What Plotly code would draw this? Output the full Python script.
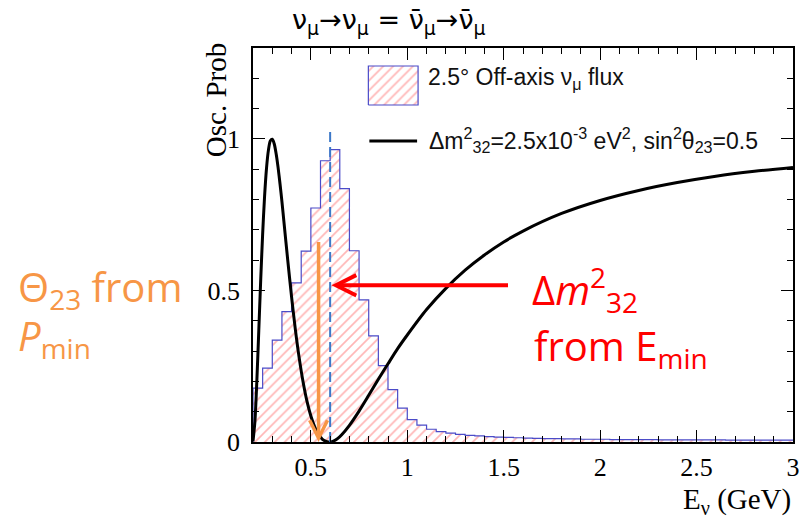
import plotly.graph_objects as go

# ---------------- data ----------------
flux_bin_lo = [0.20, 0.25, 0.30, 0.35, 0.40, 0.45, 0.50, 0.55, 0.60, 0.65,
               0.70, 0.75, 0.80, 0.85, 0.90, 0.95, 1.00, 1.05, 1.10, 1.15,
               1.20, 1.25, 1.30, 1.35, 1.40, 1.45, 1.50, 1.55, 1.60, 1.65,
               1.70, 1.75, 1.80, 1.85, 1.90, 1.95, 2.00, 2.05, 2.10, 2.15,
               2.20, 2.25, 2.30, 2.35, 2.40, 2.45, 2.50, 2.55, 2.60, 2.65,
               2.70, 2.75, 2.80, 2.85, 2.90, 2.95]
flux_bin_hi_last = 3.0
flux_values = [0.178, 0.244, 0.336, 0.430, 0.525, 0.630, 0.772, 0.928, 0.965, 0.836,
               0.631, 0.469, 0.350, 0.252, 0.173, 0.112, 0.074, 0.056, 0.042, 0.034,
               0.029, 0.025, 0.022, 0.020, 0.018, 0.016, 0.015, 0.014, 0.013, 0.012,
               0.011, 0.011, 0.010, 0.010, 0.009, 0.009, 0.009, 0.008, 0.008, 0.008,
               0.008, 0.008, 0.007, 0.007, 0.007, 0.007, 0.007, 0.007, 0.007, 0.006,
               0.006, 0.006, 0.006, 0.006, 0.006, 0.006]

osc_E = [0.20, 0.21, 0.22, 0.23, 0.24, 0.25, 0.26, 0.27, 0.28, 0.29,
         0.30, 0.31, 0.32, 0.33, 0.34, 0.35, 0.36, 0.38, 0.40, 0.42,
         0.44, 0.46, 0.48, 0.50, 0.52, 0.54, 0.56, 0.58, 0.60, 0.62,
         0.64, 0.66, 0.70, 0.75, 0.80, 0.85, 0.90, 0.95, 1.00, 1.10,
         1.20, 1.30, 1.40, 1.50, 1.60, 1.80, 2.00, 2.20, 2.40, 2.60,
         2.80, 3.00]
osc_P = [0.002, 0.069, 0.203, 0.368, 0.535, 0.686, 0.810, 0.903, 0.963, 0.994,
         0.999, 0.984, 0.951, 0.906, 0.852, 0.793, 0.729, 0.601, 0.479, 0.369,
         0.275, 0.197, 0.134, 0.086, 0.050, 0.025, 0.009, 0.002, 0.000, 0.004,
         0.012, 0.024, 0.055, 0.102, 0.154, 0.207, 0.258, 0.308, 0.353, 0.437,
         0.507, 0.567, 0.617, 0.660, 0.696, 0.754, 0.797, 0.830, 0.856, 0.877,
         0.893, 0.906]

E_min_line_x = [0.6, 0.6]
E_min_line_y = [0.0, 1.03]

theta_arrow = dict(x=0.54, y_tip=0.0, y_tail=0.665)
dm_arrow = dict(y=0.517, x_tip=0.607, x_tail=1.53)

x_range = [0.2, 3.0]
y_range = [0.0, 1.3]

title_text = "ν<sub>μ</sub>→ν<sub>μ</sub> = ν̄<sub>μ</sub>→ν̄<sub>μ</sub>"
legend_flux = "2.5° Off-axis ν<sub>μ</sub> flux"
legend_osc = "Δm<sup>2</sup><sub>32</sub>=2.5x10<sup>-3</sup> eV<sup>2</sup>, sin<sup>2</sup>θ<sub>23</sub>=0.5"
y_title = "Osc. Prob"
x_title = "E<sub>ν</sub> (GeV)"

# ---------------- layout geometry ----------------
W, H = 812, 518
ML, MR, MT, MB = 253, 16, 48, 76
PW, PH = W - ML - MR, H - MT - MB


def PX(px):
    return (px - ML) / PW


def PY(py):
    return (H - MB - py) / PH


SERIF = "Liberation Serif, Times New Roman, serif"
SANS = "Liberation Sans, Arial, sans-serif"
TITLEF = "DejaVu Sans, Liberation Sans, sans-serif"
SLIDE = "Open Sans, Noto Sans, sans-serif"
BLUE_OUT = "#4b4bc8"
HATCH = dict(shape="/", fgcolor="#ff6e6e", bgcolor="white", size=7, solidity=0.24)
ORANGE = "#f79646"
RED = "#ff0000"

fig = go.Figure()

# histogram (step outline + hatched fill)
hx = [flux_bin_lo[0]] + flux_bin_lo + [flux_bin_hi_last]
hy = [0.0] + flux_values + [flux_values[-1]]
fig.add_trace(go.Scatter(x=hx, y=hy, mode="lines", line=dict(shape="hv", color=BLUE_OUT, width=1.2),
                         fill="tozeroy", fillcolor="white", fillpattern=HATCH, showlegend=False,
                         hoverinfo="skip"))

# oscillation probability curve
fig.add_trace(go.Scatter(x=osc_E, y=osc_P, mode="lines",
                         line=dict(color="black", width=3, shape="spline", smoothing=0.8),
                         showlegend=False, hoverinfo="skip"))

# dashed line at E_min
fig.add_trace(go.Scatter(x=E_min_line_x, y=E_min_line_y, mode="lines",
                         line=dict(color="#3c78c8", width=2, dash="10px,5px"),
                         showlegend=False, hoverinfo="skip"))

# legend glyph box (on an overlay axis spanning the plot area)
lx0, lx1, ly0, ly1 = PX(369), PX(419), PY(105), PY(66)
fig.add_trace(go.Scatter(x=[lx0, lx1, lx1, lx0, lx0], y=[ly0, ly0, ly1, ly1, ly0],
                         xaxis="x2", yaxis="y2", mode="lines", fill="toself",
                         fillcolor="white", fillpattern=HATCH,
                         line=dict(color=BLUE_OUT, width=1.2), showlegend=False, hoverinfo="skip"))

annotations = []
# arrows
annotations.append(dict(x=theta_arrow["x"], y=theta_arrow["y_tip"], ax=theta_arrow["x"],
                        ay=theta_arrow["y_tail"], xref="x", yref="y", axref="x", ayref="y",
                        text="", showarrow=True, arrowhead=5, arrowsize=1.0, arrowwidth=3.5,
                        arrowcolor=ORANGE, standoff=0))
annotations.append(dict(x=dm_arrow["x_tip"], y=dm_arrow["y"], ax=dm_arrow["x_tail"],
                        ay=dm_arrow["y"], xref="x", yref="y", axref="x", ayref="y",
                        text="", showarrow=True, arrowhead=5, arrowsize=1.0, arrowwidth=4,
                        arrowcolor=RED, standoff=0))

# title
annotations.append(dict(text=title_text, x=PX(390), y=PY(21), xref="paper", yref="paper",
                        xanchor="center", yanchor="middle", showarrow=False,
                        font=dict(family=TITLEF, size=27, color="black")))
# axis titles
annotations.append(dict(text=y_title, x=PX(216), y=PY(100), xref="paper", yref="paper",
                        xanchor="center", yanchor="middle", textangle=-90, showarrow=False,
                        font=dict(family=SERIF, size=29, color="black")))
annotations.append(dict(text=x_title, x=PX(796), y=PY(501), xref="paper", yref="paper",
                        xanchor="right", yanchor="middle", showarrow=False,
                        font=dict(family=SERIF, size=29, color="black")))
# legend texts
annotations.append(dict(text=legend_flux, x=PX(427), y=PY(79), xref="paper", yref="paper",
                        xanchor="left", yanchor="middle", showarrow=False,
                        font=dict(family=SANS, size=23, color="#111")))
annotations.append(dict(text=legend_osc, x=PX(428), y=PY(140), xref="paper", yref="paper",
                        xanchor="left", yanchor="middle", showarrow=False,
                        font=dict(family=SANS, size=23, color="#111")))
# slide annotations
annotations.append(dict(text="Θ<sub>23</sub> from", x=PX(15), y=PY(288), xref="paper", yref="paper",
                        xanchor="left", yanchor="middle", showarrow=False,
                        font=dict(family=SLIDE, size=40, color=ORANGE)))
annotations.append(dict(text="<i>P</i><sub>min</sub>", x=PX(15), y=PY(337), xref="paper", yref="paper",
                        xanchor="left", yanchor="middle", showarrow=False,
                        font=dict(family=SLIDE, size=40, color=ORANGE)))
annotations.append(dict(text="Δ<i>m</i><sup>2</sup><sub>32</sub>", x=PX(532), y=PY(289), xref="paper",
                        yref="paper", xanchor="left", yanchor="middle", showarrow=False,
                        font=dict(family=SLIDE, size=40, color=RED)))
annotations.append(dict(text="from E<sub>min</sub>", x=PX(534), y=PY(347), xref="paper", yref="paper",
                        xanchor="left", yanchor="middle", showarrow=False,
                        font=dict(family=SLIDE, size=40, color=RED)))

shapes = [dict(type="line", xref="paper", yref="paper", x0=PX(370), x1=PX(418),
               y0=PY(141), y1=PY(141), line=dict(color="black", width=3))]

axis_common = dict(showline=True, linecolor="black", linewidth=1.5, mirror="ticks",
                   ticks="inside", ticklen=12, tickwidth=1, tickcolor="black",
                   showgrid=False, zeroline=False,
                   tickfont=dict(family=SERIF, size=26, color="black"))

fig.update_layout(
    width=W, height=H, margin=dict(l=ML, r=MR, t=MT, b=MB),
    paper_bgcolor="white", plot_bgcolor="white", showlegend=False,
    xaxis=dict(range=x_range, tick0=0, dtick=0.5,
               minor=dict(tick0=0, dtick=0.1, ticks="inside", ticklen=6, tickcolor="black", tickwidth=1),
               ticklabelstandoff=1, **axis_common),
    yaxis=dict(range=y_range, tick0=0, dtick=0.5,
               minor=dict(tick0=0, dtick=0.1, ticks="inside", ticklen=6, tickcolor="black", tickwidth=1),
               ticklabelstandoff=6, **axis_common),
    xaxis2=dict(overlaying="x", range=[0, 1], visible=False, fixedrange=True),
    yaxis2=dict(overlaying="y", range=[0, 1], visible=False, fixedrange=True),
    annotations=annotations, shapes=shapes,
)

fig.write_html("out.html", config={"displayModeBar": False},
               post_script="document.body.style.margin='0';")
